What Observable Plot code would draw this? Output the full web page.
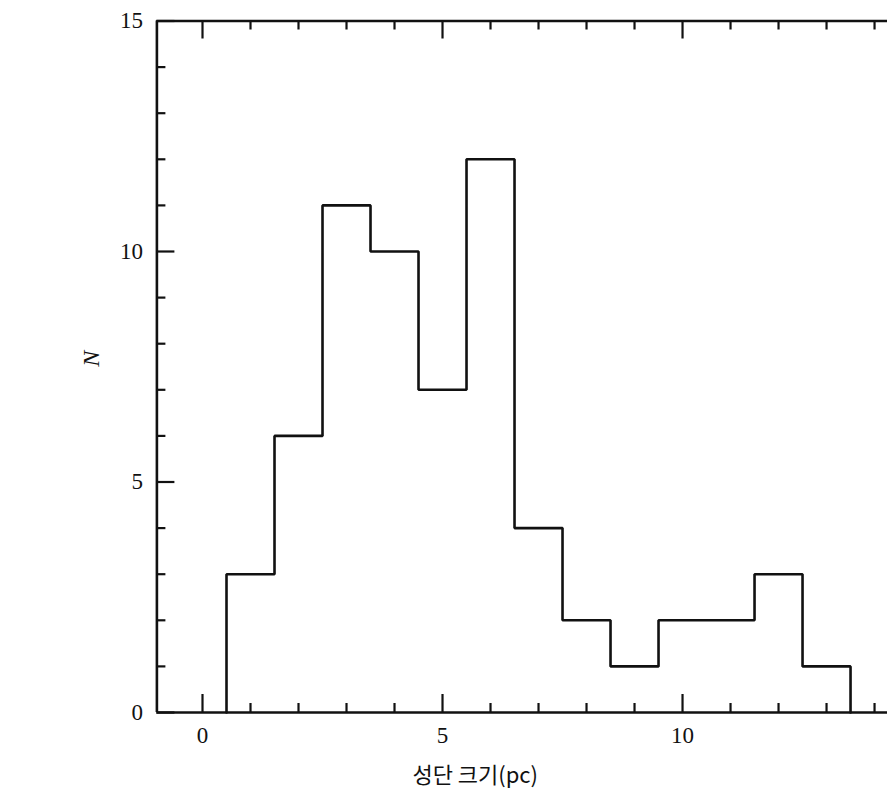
<!DOCTYPE html>
<html><head><meta charset="utf-8">
<script src="https://cdn.jsdelivr.net/npm/d3@7"></script>
<script src="https://cdn.jsdelivr.net/npm/@observablehq/plot@0.6"></script>
<style>body{margin:0;background:#fff}</style>
</head><body><div id="chart"></div>
<script>
const binStarts = [0.5, 1.5, 2.5, 3.5, 4.5, 5.5, 6.5, 7.5, 8.5, 9.5, 10.5, 11.5, 12.5];
const counts = [3, 6, 11, 10, 7, 12, 4, 2, 1, 2, 2, 3, 1];
const binWidth = 1;
const xMajorTicks = [0, 5, 10];
const xMinorTicks = [1, 2, 3, 4, 6, 7, 8, 9, 11, 12, 13, 14];
const yMajorTicks = [0, 5, 10, 15];
const yMinorTicks = [1, 2, 3, 4, 6, 7, 8, 9, 11, 12, 13, 14];
const xDomain = [-0.95, 14.27];
const yDomain = [0, 15];
const xLabel = "성단 크기(pc)";
const yLabel = "N";

// outline vertices of the histogram built from the bins
const outline = [{x: binStarts[0], y: 0}];
binStarts.forEach((s, i) => {
  outline.push({x: s, y: counts[i]});
  outline.push({x: s + binWidth, y: counts[i]});
});
outline.push({x: binStarts[binStarts.length - 1] + binWidth, y: 0});

const W = 887, H = 800, mT = 20.5, mB = 88, mL = 156.4, mR = 0;
const innerH = H - mT - mB, innerW = W - mL - mR;
const ink = "#111";
const majorLen = 18, minorLen = 9;

const chart = Plot.plot({
  width: W, height: H,
  marginTop: mT, marginBottom: mB, marginLeft: mL, marginRight: mR,
  style: {fontFamily: "'Liberation Serif', serif", fontSize: "23px", background: "#fff", color: ink},
  x: {domain: xDomain, axis: null},
  y: {domain: yDomain, axis: null},
  marks: [
    // frame: left, top, bottom
    Plot.ruleX([xDomain[0]], {stroke: ink, strokeWidth: 2.6}),
    Plot.ruleY([yDomain[0], yDomain[1]], {stroke: ink, strokeWidth: 2.6}),
    // bottom ticks (inward)
    Plot.ruleX(xMajorTicks, {stroke: ink, strokeWidth: 2.2, insetTop: innerH - majorLen}),
    Plot.ruleX(xMinorTicks, {stroke: ink, strokeWidth: 2.2, insetTop: innerH - minorLen}),
    // top ticks (inward)
    Plot.ruleX(xMajorTicks, {stroke: ink, strokeWidth: 2.2, insetBottom: innerH - majorLen}),
    Plot.ruleX(xMinorTicks, {stroke: ink, strokeWidth: 2.2, insetBottom: innerH - minorLen}),
    // left ticks (inward)
    Plot.ruleY(yMajorTicks, {stroke: ink, strokeWidth: 2.2, insetRight: innerW - majorLen}),
    Plot.ruleY(yMinorTicks, {stroke: ink, strokeWidth: 2.2, insetRight: innerW - minorLen}),
    // tick labels
    Plot.axisX(xMajorTicks, {anchor: "bottom", tickSize: 0, tickPadding: 14, fontSize: 23, fill: ink, label: null}),
    Plot.axisY(yMajorTicks, {anchor: "left", tickSize: 0, tickPadding: 14, fontSize: 23, fill: ink, label: null}),
    // histogram outline
    Plot.line(outline, {x: "x", y: "y", stroke: ink, strokeWidth: 2.6, strokeLinejoin: "miter"}),
    // axis titles
    Plot.text([xLabel], {frameAnchor: "bottom", dx: -47, dy: 70, fontFamily: "'Noto Sans CJK KR', sans-serif", fontSize: 22, fill: ink}),
    Plot.text([yLabel], {frameAnchor: "left", dx: -66, rotate: -90, fontStyle: "italic", fontSize: 24, fill: ink})
  ]
});
document.getElementById("chart").append(chart);
</script>
</body></html>
